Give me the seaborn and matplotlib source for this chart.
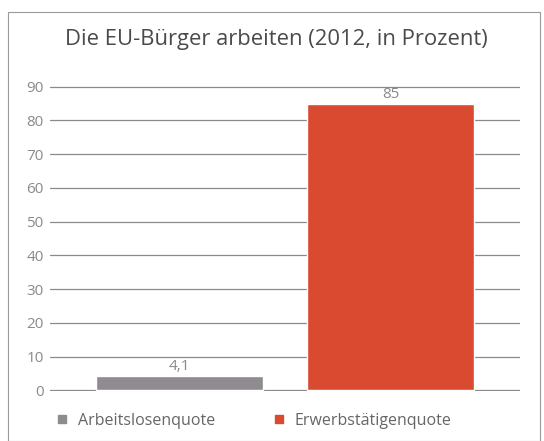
import matplotlib
matplotlib.use("Agg")
import matplotlib.pyplot as plt
import seaborn as sns
import pandas as pd
from matplotlib.lines import Line2D
from matplotlib.patches import Rectangle

categories = ["Arbeitslosenquote", "Erwerbstätigenquote"]
values = [4.1, 85]
value_labels = ["4,1", "85"]
colors = ["#8f8b90", "#d94a30"]
yticks = [0, 10, 20, 30, 40, 50, 60, 70, 80, 90]

sns.set_theme(style="white")
plt.rcParams['font.family'] = ['Open Sans', 'DejaVu Sans']

df = pd.DataFrame({"cat": categories, "val": values})

fig = plt.figure(figsize=(5.44, 4.41), dpi=100)
fig.patch.set_facecolor("white")
ax = fig.add_axes([50/544, 50/441, 470/544, 305/441])

sns.barplot(data=df, x="cat", y="val", hue="cat", palette=colors,
            width=0.79, legend=False, ax=ax, saturation=1, zorder=3)

ax.set_ylim(-0.2, 90.2)
ax.set_xlim(-0.614, 1.614)
ax.set_yticks(yticks)
ax.set_yticklabels([str(t) for t in yticks], color="#8a8a8a", fontsize=11)
ax.tick_params(axis="y", length=0, pad=4.5)
ax.set_xticks([])
ax.set_xlabel("")
ax.set_ylabel("")
for s in ax.spines.values():
    s.set_visible(False)
ax.yaxis.grid(True, color="#8a8a8a", linewidth=0.9)
ax.set_axisbelow(True)

for i, (v, lab) in enumerate(zip(values, value_labels)):
    ax.text(i, v + 0.6, lab, ha="center", va="bottom", color="#8a8a8a", fontsize=11)

fig.text(276/544, 1 - 40/441, "Die EU-Bürger arbeiten (2012, in Prozent)",
         ha="center", va="center", fontsize=15.8, color="#4a4a4a")

handles = [Line2D([0], [0], marker="s", linestyle="none", markersize=6,
                  markerfacecolor=c, markeredgecolor=c) for c in colors]
fig.legend(handles, categories, loc="center left", bbox_to_anchor=(40/544, 1 - 421/441),
           ncol=2, frameon=False, fontsize=11.5, labelcolor="#666666",
           handletextpad=0.47, columnspacing=3.5, handlelength=1.0)

fig.patches.append(Rectangle((8/544, 0), 532/544, 1 - 12/441, transform=fig.transFigure,
                             fill=False, edgecolor="#9a9a9a", linewidth=0.8))

fig.savefig("out.png", dpi=100)
